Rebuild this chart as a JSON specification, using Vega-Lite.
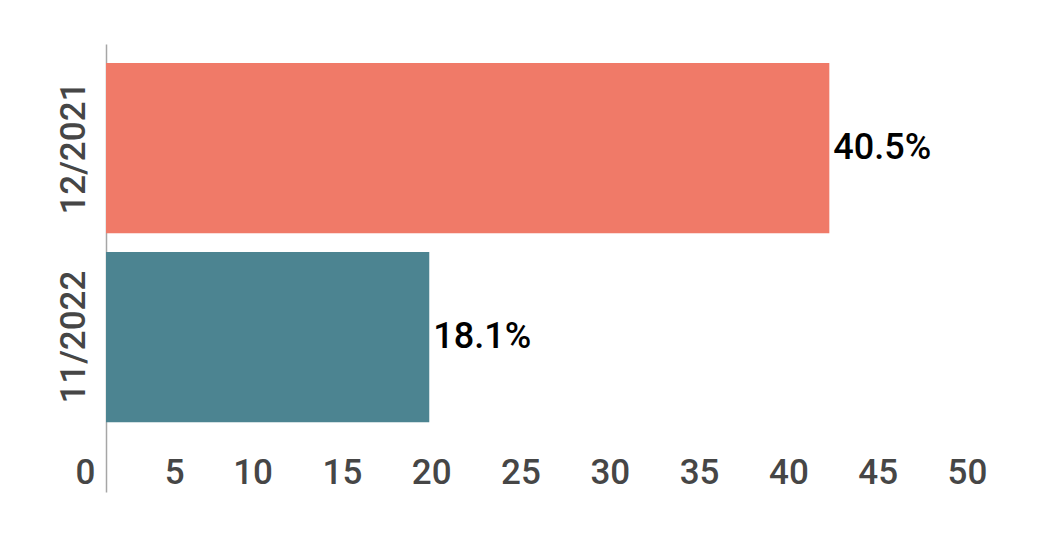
{
  "$schema": "https://vega.github.io/schema/vega-lite/v6.json",
  "autosize": {"type": "none"},
  "width": 893,
  "height": 448,
  "padding": {"left": 106, "top": 44, "right": 41, "bottom": 44},
  "background": "white",
  "config": {
    "view": {"stroke": null},
    "font": "Roboto"
  },
  "data": {
    "values": [
      {"period": "12/2021", "value": 40.5, "label": "40.5%"},
      {"period": "11/2022", "value": 18.1, "label": "18.1%"}
    ]
  },
  "encoding": {
    "y": {
      "field": "period",
      "type": "nominal",
      "sort": ["12/2021", "11/2022"],
      "scale": {"paddingInner": 0.1, "paddingOuter": 0.235, "align": 0.214},
      "axis": {
        "title": null,
        "labelAngle": -90,
        "labelFont": "Roboto",
        "labelFontSize": 35,
        "labelFontWeight": 500,
        "labelColor": "#464646",
        "labelPadding": 15,
        "ticks": false,
        "domain": true,
        "domainColor": "#a6a6a6",
        "domainWidth": 1.5
      }
    },
    "x": {
      "field": "value",
      "type": "quantitative",
      "scale": {"domain": [0, 50], "nice": false},
      "axis": {
        "title": null,
        "values": [0, 5, 10, 15, 20, 25, 30, 35, 40, 45, 50],
        "grid": false,
        "domain": false,
        "ticks": false,
        "labelFont": "Roboto",
        "labelFontSize": 35,
        "labelFontWeight": 500,
        "labelColor": "#464646",
        "labelPadding": -37,
        "labelFlush": false,
        "labelOverlap": false,
        "labelOffset": {"condition": {"test": "datum.value <= 5", "value": -21}, "value": -32}
      }
    }
  },
  "layer": [
    {
      "mark": {"type": "bar"},
      "encoding": {
        "color": {
          "field": "period",
          "type": "nominal",
          "scale": {"domain": ["12/2021", "11/2022"], "range": ["#F07A68", "#4C8491"]},
          "legend": null
        }
      }
    },
    {
      "mark": {"type": "text", "align": "left", "baseline": "middle", "dx": 4, "fontSize": 36, "fontWeight": 500, "font": "Roboto", "color": "#000000"},
      "encoding": {
        "text": {"field": "label", "type": "nominal"}
      }
    }
  ]
}
